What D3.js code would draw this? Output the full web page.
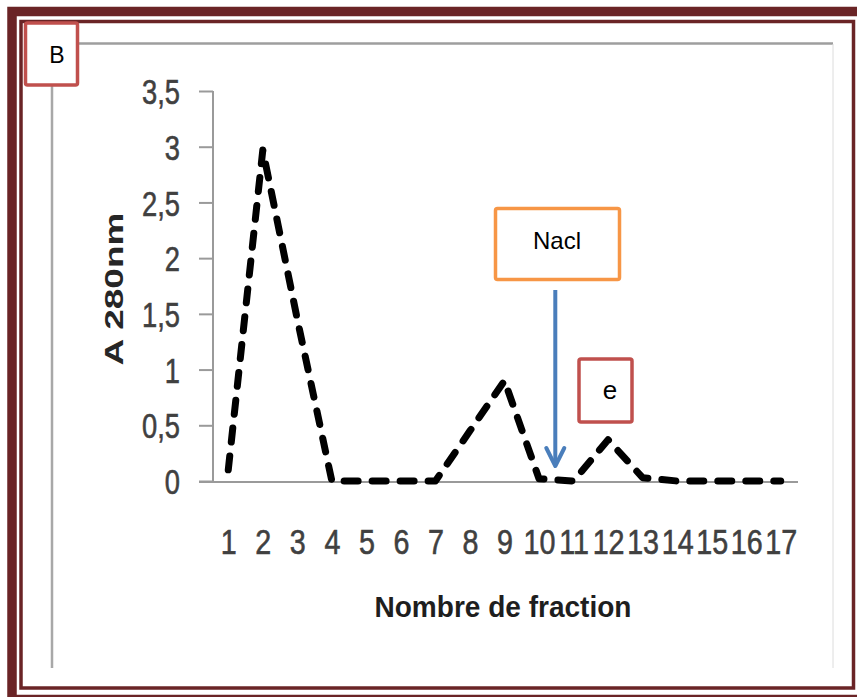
<!DOCTYPE html>
<html>
<head>
<meta charset="utf-8">
<script src="https://cdn.jsdelivr.net/npm/d3@7/dist/d3.min.js"></script>
<style>
  html, body { margin: 0; padding: 0; background: #ffffff; }
  svg { display: block; }
</style>
</head>
<body>
<svg id="chart" width="857" height="697"></svg>
<script>
// ---- data ----
const categories = ["1","2","3","4","5","6","7","8","9","10","11","12","13","14","15","16","17"];
const absorbance = [0.1, 2.97, 1.45, 0, 0, 0, 0, 0.45, 0.9, 0.02, 0, 0.37, 0.03, 0, 0, 0, 0];
const yTickValues = [0, 0.5, 1, 1.5, 2, 2.5, 3, 3.5];
const yTickLabels = ["0", "0,5", "1", "1,5", "2", "2,5", "3", "3,5"];
const xTitle = "Nombre de fraction";
const yTitle = "A 280nm";
const panelLabel = "B";
const saltLabel = "Nacl";
const peakLabel = "e";

// ---- drawing ----
const svg = d3.select("#chart");
const frameColor = "#6a2426";
const font = "'Liberation Sans', Arial, sans-serif";

// outer decorative frame
svg.append("rect").attr("x", 12).attr("y", 11.5).attr("width", 900).attr("height", 688)
  .attr("fill", "none").attr("stroke", frameColor).attr("stroke-width", 9.5);
svg.append("rect").attr("x", 21).attr("y", 21.5).attr("width", 832.5).attr("height", 666.5)
  .attr("fill", "none").attr("stroke", frameColor).attr("stroke-width", 3.5);

// chart-area edges (pasted image border)
svg.append("line").attr("x1", 52).attr("x2", 833).attr("y1", 43.5).attr("y2", 43.5)
  .attr("stroke", "#9e9e9e").attr("stroke-width", 2.5);
svg.append("line").attr("x1", 52).attr("x2", 52).attr("y1", 43).attr("y2", 668)
  .attr("stroke", "#a8a8a8").attr("stroke-width", 2.5);
svg.append("line").attr("x1", 833).attr("x2", 833).attr("y1", 44).attr("y2", 668)
  .attr("stroke", "#dcdcdc").attr("stroke-width", 1);

// scales
const x = d3.scalePoint().domain(categories).range([211, 798]).padding(0.5);
const y = d3.scaleLinear().domain([0, 3.5]).range([481, 91]);
const axisX0 = 213;
const sy = 0.78;   // horizontal squeeze of y tick labels
const sxl = 0.82;  // horizontal squeeze of x tick labels

// y axis
const yAxis = d3.axisLeft(y).tickValues(yTickValues).tickSize(14).tickPadding(0)
  .tickFormat((d, i) => yTickLabels[i]);
const yg = svg.append("g").attr("transform", `translate(${axisX0},0)`).call(yAxis);
yg.select(".domain").attr("stroke", "#9a9a9a").attr("stroke-width", 2)
  .attr("d", `M0,${y(3.5)}V${y(0) + 1}`);
yg.selectAll(".tick line").attr("stroke", "#9a9a9a").attr("stroke-width", 2);
yg.selectAll(".tick text")
  .attr("font-family", font).attr("font-size", 35).attr("fill", "#404040")
  .attr("stroke", "#404040").attr("stroke-width", 0.6)
  .attr("text-anchor", "end").attr("dy", "0.36em")
  .attr("x", -33 / sy).attr("transform", `scale(${sy},1)`);

// x axis baseline
svg.append("line")
  .attr("x1", axisX0 - 14).attr("x2", x.range()[1])
  .attr("y1", y(0) + 1).attr("y2", y(0) + 1)
  .attr("stroke", "#9a9a9a").attr("stroke-width", 2);

// x tick labels (through the x scale)
const xAxis = d3.axisBottom(x).tickSize(0).tickPadding(0);
const xg = svg.append("g").attr("transform", `translate(0,${y(0) + 1})`).call(xAxis);
xg.select(".domain").remove();
xg.selectAll(".tick text")
  .attr("font-family", font).attr("font-size", 35).attr("fill", "#404040")
  .attr("stroke", "#404040").attr("stroke-width", 0.6)
  .attr("text-anchor", "middle")
  .attr("dy", null).attr("y", 72)
  .attr("transform", `scale(${sxl},1)`);

// axis titles
svg.append("text")
  .attr("x", 503).attr("y", 617)
  .attr("text-anchor", "middle")
  .attr("font-family", font).attr("font-size", 30).attr("font-weight", "bold")
  .attr("fill", "#1e1e1e")
  .attr("textLength", 257).attr("lengthAdjust", "spacingAndGlyphs")
  .text(xTitle);

svg.append("text")
  .attr("transform", "translate(123,289) rotate(-90)")
  .attr("text-anchor", "middle")
  .attr("font-family", font).attr("font-size", 25).attr("font-weight", "bold")
  .attr("fill", "#262626")
  .attr("textLength", 153).attr("lengthAdjust", "spacingAndGlyphs")
  .text(yTitle);

// data line
const line = d3.line().x((d, i) => x(categories[i])).y(d => y(d));
svg.append("path").datum(absorbance)
  .attr("d", line)
  .attr("fill", "none").attr("stroke", "#000000").attr("stroke-width", 7)
  .attr("stroke-dasharray", "14 14").attr("stroke-linecap", "round")
  .attr("stroke-linejoin", "round");

// annotations
function box(x0, y0, w, h, color) {
  svg.append("rect").attr("x", x0).attr("y", y0).attr("width", w).attr("height", h)
    .attr("rx", 2).attr("fill", "#ffffff").attr("stroke", color).attr("stroke-width", 3.5);
}
box(25.5, 23, 52, 62, "#c0504d");
svg.append("text").attr("x", 57).attr("y", 63).attr("text-anchor", "middle")
  .attr("font-family", font).attr("font-size", 23).attr("fill", "#000").text(panelLabel);

box(495.5, 208.5, 124, 71, "#f79646");
svg.append("text").attr("x", 557).attr("y", 249).attr("text-anchor", "middle")
  .attr("font-family", font).attr("font-size", 24).attr("fill", "#000").text(saltLabel);

box(579, 359, 53, 63, "#c0504d");
svg.append("text").attr("x", 610).attr("y", 399).attr("text-anchor", "middle")
  .attr("font-family", font).attr("font-size", 26).attr("fill", "#000").text(peakLabel);

// NaCl arrow between fractions 10 and 11
const ax = (x("10") + x("11")) / 2 - 1;
svg.append("line").attr("x1", ax).attr("x2", ax).attr("y1", 290).attr("y2", 465)
  .attr("stroke", "#4a7ebb").attr("stroke-width", 4);
svg.append("path")
  .attr("d", `M${ax - 9},${448} L${ax},${466} L${ax + 9},${448}`)
  .attr("fill", "none").attr("stroke", "#4a7ebb").attr("stroke-width", 4)
  .attr("stroke-linecap", "round").attr("stroke-linejoin", "round");
</script>
</body>
</html>
